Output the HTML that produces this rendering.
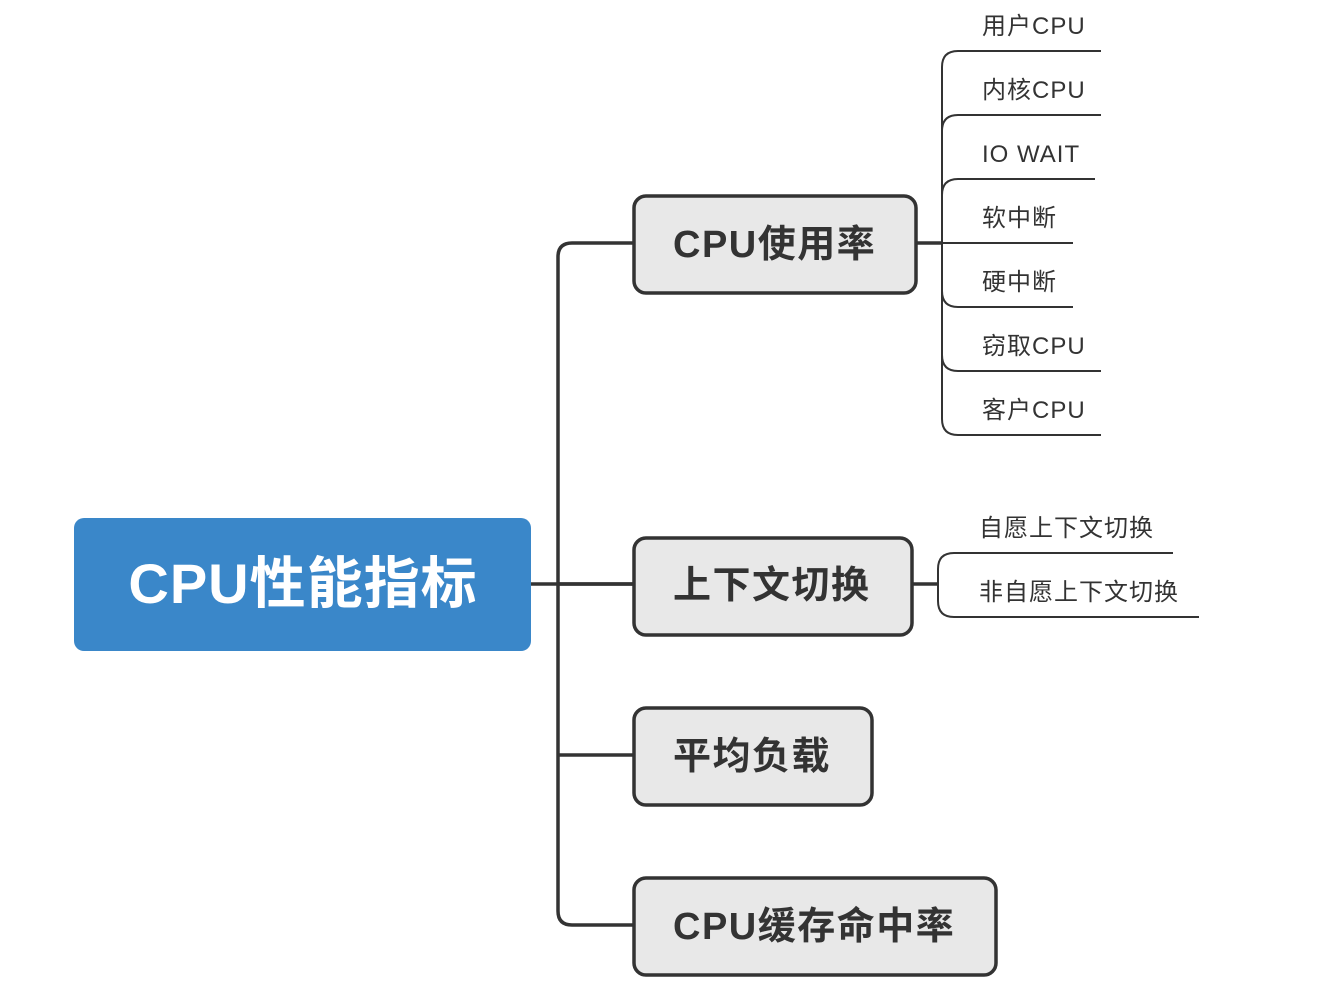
<!DOCTYPE html>
<html><head><meta charset="utf-8"><style>
body{margin:0;background:#fff}
text{font-family:"Liberation Sans","Noto Sans CJK SC",sans-serif;fill:#333}
</style></head><body>
<svg width="1332" height="994" viewBox="0 0 1332 994" xmlns="http://www.w3.org/2000/svg">
<g fill="none" stroke="#333" stroke-width="3.5">
<path d="M531 584H634"/>
<path d="M634 243H572Q558 243 558 257V911Q558 925 572 925H634"/>
<path d="M558 584H634M558 755H634"/>
<path d="M916 243H942"/>
<path d="M912 584H938"/>
</g>
<g fill="none" stroke="#333" stroke-width="2">
<path d="M968 51H958Q942 51 942 67V419Q942 435 958 435H968"/>
<path d="M942 131Q942 115 958 115H968M942 195Q942 179 958 179H968M942 243H968M942 291Q942 307 958 307H968M942 355Q942 371 958 371H968"/>
<path d="M965 553H954Q938 553 938 569V601Q938 617 954 617H965"/>
<path d="M968 51H1101M968 115H1101M968 179H1095M968 243H1073M968 307H1073M968 371H1101M968 435H1101"/>
<path d="M965 553H1173M965 617H1199"/>
</g>
<rect x="74" y="518" width="457" height="133" rx="10" fill="#3a87c9"/>
<text x="303" y="603" text-anchor="middle" font-size="56" font-weight="bold" letter-spacing="1" style="fill:#fff">CPU性能指标</text>
<g fill="#e8e8e8" stroke="#333" stroke-width="3.5">
<rect x="634" y="196" width="282" height="97" rx="12"/>
<rect x="634" y="538" width="278" height="97" rx="12"/>
<rect x="634" y="708" width="238" height="97" rx="12"/>
<rect x="634" y="878" width="362" height="97" rx="12"/>
</g>
<g font-size="38" font-weight="bold" letter-spacing="1.5">
<text x="673" y="257">CPU使用率</text>
<text x="673" y="598">上下文切换</text>
<text x="673" y="769">平均负载</text>
<text x="673" y="939">CPU缓存命中率</text>
</g>
<g font-size="24" letter-spacing="1">
<text x="982" y="34">用户CPU</text>
<text x="982" y="98">内核CPU</text>
<text x="982" y="162">IO WAIT</text>
<text x="982" y="226">软中断</text>
<text x="982" y="290">硬中断</text>
<text x="982" y="354">窃取CPU</text>
<text x="982" y="418">客户CPU</text>
<text x="979" y="536">自愿上下文切换</text>
<text x="979" y="600">非自愿上下文切换</text>
</g>
</svg>
</body></html>
